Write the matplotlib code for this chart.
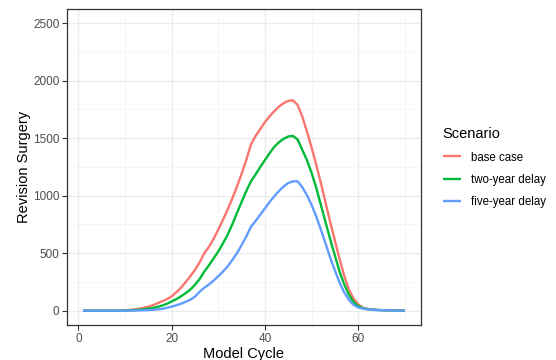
import numpy as np
import matplotlib
matplotlib.use("Agg")
import matplotlib.pyplot as plt
from matplotlib.ticker import MultipleLocator

plt.rcParams['font.family'] = ['Liberation Sans', 'DejaVu Sans']

cycle = list(range(1, 71))
scenarios = ["base case", "two-year delay", "five-year delay"]
colours = ["#F8766D", "#00BA38", "#619CFF"]

base_case = [0, 0, 0, 0, 0, 0, 0, 0, 1, 3,
             6, 10, 17, 25, 35, 48, 65, 82, 100, 125,
             160, 200, 248, 300, 355, 420, 500, 555, 625, 705,
             790, 880, 975, 1080, 1190, 1310, 1445, 1520, 1580, 1640,
             1690, 1735, 1775, 1805, 1825, 1830, 1790, 1690, 1560, 1420,
             1270, 1110, 940, 770, 610, 450, 305, 185, 105, 55,
             25, 15, 10, 7, 5, 3, 2, 1, 1, 0]
two_year = [0, 0, 0, 0, 0, 0, 0, 0, 0, 1,
            3, 5, 8, 12, 17, 24, 33, 45, 60, 80,
            100, 125, 152, 183, 225, 275, 340, 395, 455, 515,
            585, 660, 750, 850, 945, 1040, 1125, 1185, 1250, 1310,
            1370, 1425, 1465, 1495, 1515, 1520, 1490, 1400, 1310, 1200,
            1070, 920, 770, 620, 480, 340, 230, 140, 75, 40,
            22, 14, 9, 6, 4, 3, 2, 1, 1, 0]
five_year = [0, 0, 0, 0, 0, 0, 0, 0, 0, 0,
             1, 1, 2, 3, 5, 8, 11, 16, 25, 35,
             47, 60, 76, 95, 122, 165, 200, 228, 262, 300,
             340, 385, 440, 500, 570, 645, 730, 780, 835, 890,
             945, 995, 1040, 1080, 1110, 1125, 1125, 1075, 1005, 920,
             820, 705, 585, 460, 350, 245, 160, 95, 50, 28,
             18, 12, 8, 5, 4, 3, 2, 1, 1, 0]

fig = plt.figure(figsize=(5.56, 3.6), dpi=100)
ax = fig.add_axes([0.1205, 0.0972, 0.6365, 0.878])

for vals, name, col in zip([base_case, two_year, five_year], scenarios, colours):
    ax.plot(cycle, vals, color=col, lw=1.7, label=name, solid_capstyle='butt')

ax.set_xlim(1 - 0.05 * 69, 70 + 0.05 * 69)
ax.set_ylim(-125, 2625)
ax.xaxis.set_major_locator(MultipleLocator(20))
ax.xaxis.set_minor_locator(MultipleLocator(10))
ax.yaxis.set_major_locator(MultipleLocator(500))
ax.yaxis.set_minor_locator(MultipleLocator(250))
ax.grid(which='major', color='#EBEBEB', lw=0.9)
ax.grid(which='minor', color='#F3F3F3', lw=0.5)
ax.set_axisbelow(True)
for s in ax.spines.values():
    s.set_color('#333333')
    s.set_linewidth(0.9)
ax.tick_params(which='major', length=3.5, width=0.8, color='#333333',
               labelsize=8.5, labelcolor='#4D4D4D', pad=2)
ax.tick_params(which='minor', length=0)

ax.set_xlabel("Model Cycle", fontsize=10.5, color='black', labelpad=2)
ax.set_ylabel("Revision Surgery", fontsize=10.5, color='black', labelpad=1)

leg = ax.legend(title="Scenario", loc='upper left', bbox_to_anchor=(0.788, 0.659),
                bbox_transform=fig.transFigure, frameon=False, fontsize=8.3,
                title_fontsize=10.5, handlelength=1.6, handletextpad=0.85,
                labelspacing=0.88, borderaxespad=0)
leg._legend_box.align = "left"
for t in leg.get_texts():
    t.set_color('black')

fig.savefig("out.png", dpi=100)
